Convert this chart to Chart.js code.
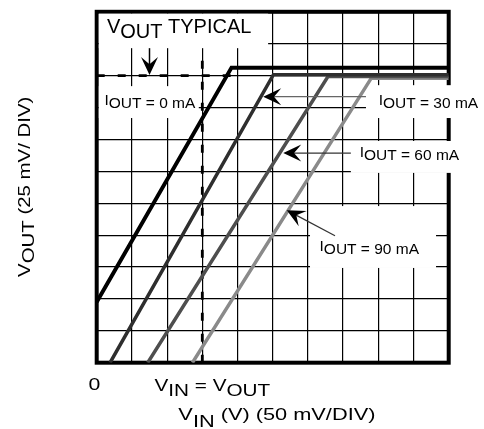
<!DOCTYPE html>
<html>
<head>
<meta charset="utf-8">
<script src="https://cdn.jsdelivr.net/npm/chart.js@4"></script>
<style>
html,body{margin:0;padding:0;background:#fff;}
#wrap{width:484px;height:429px;}
</style>
</head>
<body>
<div id="wrap"><canvas id="c" width="484" height="429"></canvas></div>
<script>
/* ===== données : VOUT en fonction de VIN, en divisions (x : 50 mV/div, y : 25 mV/div) ===== */
const x0mA  = [0, 3.83, 10];
const y0mA  = [1.9, 9.25, 9.25];
const x30mA = [0.38, 5.02, 10];
const y30mA = [0, 9.03, 9.03];
const x60mA = [1.45, 6.57, 10];
const y60mA = [0, 8.97, 8.97];
const x90mA = [2.72, 7.8, 10];
const y90mA = [0, 8.92, 8.92];
/* repères en pointillés : VOUT typique et VIN = VOUT */
const xTyp = [0, 3.83], yTyp = [9, 9];
const xVinVout = [3, 3], yVinVout = [0, 9.7];

const pts = (xs, ys) => xs.map((x,i)=>({x, y:ys[i]}));
const POLICE = '"Liberation Sans", Arial, sans-serif';

/* ---- annotations (unités des axes) ---- */
const caches = [              // fonds blancs sous les étiquettes : x0, y0, x1, y1
  [0.06, 9.86, 4.87, 10.94],
  [0.06, 7.67, 2.9, 8.67],
  [7.65, 7.67, 11.1, 8.7],
  [7.22, 5.95, 11.1, 6.95],
  [6.06, 2.97, 9.64, 4.91]
];
const fleches = [
  {de:[1.5, 9.86], a:[1.5, 9.02], w:1.5, c:'#000'},
  {de:[7.65, 8.34], a:[4.73, 8.34], w:1.2, c:'#666'},
  {de:[7.22, 6.57], a:[5.30, 6.57], w:1.2, c:'#333'},
  {de:[6.77, 3.98], a:[5.40, 4.78], w:1.2, c:'#333'}
];
const etiquettes = [
  {x:0.29, y:10.34, taille:20, sx:1, segs:[['V',0],['OUT',5],[' TYPICAL',0]]},
  {x:0.22, y:8.0, taille:15.5, sx:1, segs:[['I',-3],['OUT = 0 mA',0]]},
  {x:8.01, y:8.0, taille:15.5, sx:1, segs:[['I',-3],['OUT = 30 mA',0]]},
  {x:7.47, y:6.35, taille:15.5, sx:1, segs:[['I',-3],['OUT = 60 mA',0]]},
  {x:6.33, y:3.41, taille:15.5, sx:1, segs:[['I',-3],['OUT = 90 mA',0]]},
  {x:-0.23, y:-0.86, taille:17, sx:1.25, segs:[['0',0]]},
  {x:1.64, y:-0.89, taille:17, sx:1.22, segs:[['V',0],['IN',5],[' = ',0],['V',0],['OUT',5]]},
  {x:2.32, y:-1.8, taille:17, sx:1.28, segs:[['V',0],['IN',7],[' (V) (50 mV/DIV)',0]]},
  {x:-1.895, y:2.69, taille:17, sx:1.2, rot:true, segs:[['V',0],['OUT',4],[' (25 mV/ DIV)',0]]}
];

function pointe(ctx, tx, ty, ang, L, H){
  const ux=Math.cos(ang), uy=Math.sin(ang), nx=-uy, ny=ux;
  const bx=tx-ux*L, by=ty-uy*L;
  ctx.beginPath();
  ctx.moveTo(tx,ty);
  ctx.lineTo(bx+nx*H, by+ny*H);
  ctx.lineTo(tx-ux*L*0.6, ty-uy*L*0.6);
  ctx.lineTo(bx-nx*H, by-ny*H);
  ctx.closePath(); ctx.fill();
}

const decor = {
  id:'decor',
  beforeDatasetsDraw(ch){
    const {ctx, chartArea:a, scales:{x, y}} = ch;
    ctx.save();
    ctx.strokeStyle='#000'; ctx.lineWidth=4;
    ctx.strokeRect(a.left, a.top, a.right-a.left, a.bottom-a.top);
    ctx.fillStyle='#fff';
    caches.forEach(([x0,y0,x1,y1])=>{
      const px0=x.getPixelForValue(x0), px1=x.getPixelForValue(x1);
      const py0=y.getPixelForValue(y0), py1=y.getPixelForValue(y1);
      ctx.fillRect(px0, py1, px1-px0, py0-py1);
    });
    ctx.restore();
  },
  afterDatasetsDraw(ch){
    const {ctx, scales:{x, y}} = ch;
    ctx.save();
    fleches.forEach(f=>{
      const x0=x.getPixelForValue(f.de[0]), y0=y.getPixelForValue(f.de[1]);
      const x1=x.getPixelForValue(f.a[0]),  y1=y.getPixelForValue(f.a[1]);
      const ang=Math.atan2(y1-y0, x1-x0);
      ctx.strokeStyle=f.c; ctx.lineWidth=f.w;
      ctx.beginPath(); ctx.moveTo(x0,y0);
      ctx.lineTo(x1-Math.cos(ang)*10, y1-Math.sin(ang)*10); ctx.stroke();
      ctx.fillStyle='#000';
      pointe(ctx, x1, y1, ang, 18, 8.5);
    });
    ctx.fillStyle='#000'; ctx.textBaseline='alphabetic'; ctx.textAlign='left';
    etiquettes.forEach(e=>{
      ctx.save();
      ctx.translate(x.getPixelForValue(e.x), y.getPixelForValue(e.y));
      if(e.rot) ctx.rotate(-Math.PI/2);
      ctx.scale(e.sx, 1);
      ctx.font = e.taille+'px '+POLICE;
      let cx = 0;
      e.segs.forEach(([t,dy])=>{ ctx.fillText(t, cx, dy); cx += ctx.measureText(t).width; });
      ctx.restore();
    });
    ctx.restore();
  }
};

const ligne = (data, couleur, largeur, extra={}) => ({
  data, borderColor:couleur, backgroundColor:couleur, borderWidth:largeur,
  showLine:true, pointRadius:0, tension:0, borderJoinStyle:'miter', fill:false, ...extra
});

const grille = {color:'#000', lineWidth:1.2, drawTicks:false};
new Chart(document.getElementById('c'), {
  type:'scatter',
  data:{datasets:[
    ligne(pts(x0mA, y0mA), '#000', 4),
    ligne(pts(x30mA, y30mA), '#2e2e2e', 3.5),
    ligne(pts(x60mA, y60mA), '#4e4e4e', 3.5),
    ligne(pts(x90mA, y90mA), '#8a8a8a', 3.5),
    ligne(pts(xTyp, yTyp), '#000', 2.8, {borderDash:[8,13], borderCapStyle:'butt'}),
    ligne(pts(xVinVout, yVinVout), '#000', 2.8, {borderDash:[8,13], borderCapStyle:'butt'})
  ]},
  options:{
    responsive:false, animation:false, devicePixelRatio:1,
    layout:{padding:{left:96.7, right:35.3, top:11.8, bottom:66.3}},
    plugins:{legend:{display:false}, tooltip:{enabled:false}},
    scales:{
      x:{type:'linear', min:0, max:10, ticks:{display:false, stepSize:1}, grid:grille, border:{display:false}},
      y:{type:'linear', min:0, max:11, ticks:{display:false, stepSize:1}, grid:grille, border:{display:false}}
    }
  },
  plugins:[decor]
});
</script>
</body>
</html>
